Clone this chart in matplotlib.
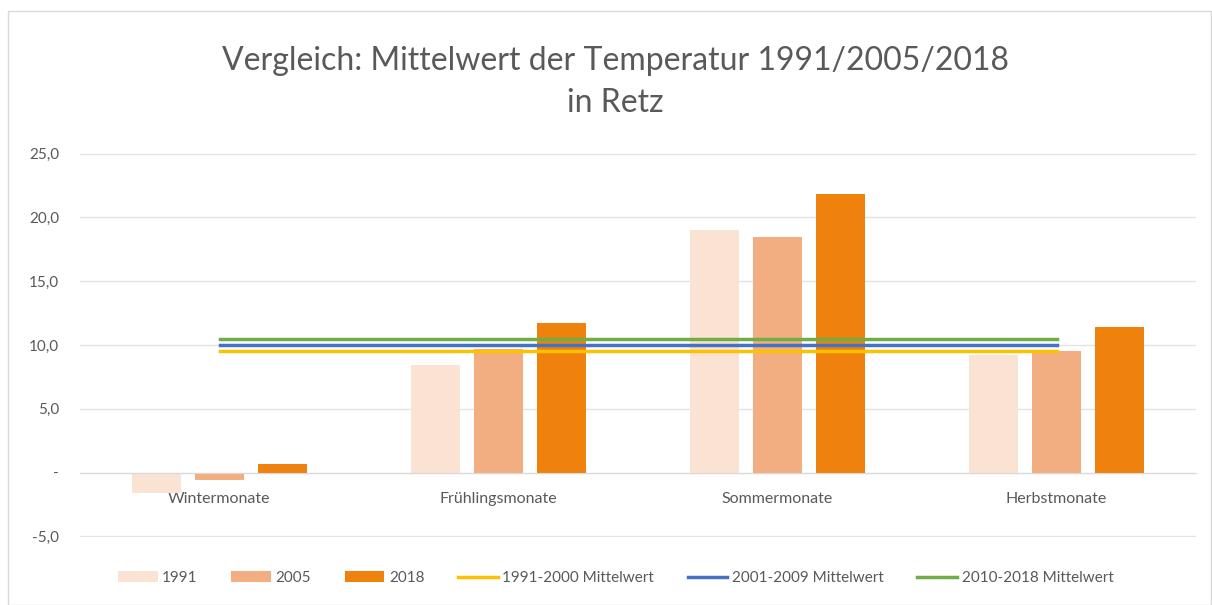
import numpy as np
import matplotlib.pyplot as plt
from matplotlib.patches import Rectangle

categories = ['Wintermonate', 'Frühlingsmonate', 'Sommermonate', 'Herbstmonate']
t_1991 = [-1.6, 8.4, 19.0, 9.2]
t_2005 = [-0.6, 9.7, 18.5, 9.5]
t_2018 = [0.7, 11.7, 21.8, 11.4]
mean_1991_2000 = [9.55, 9.55, 9.55, 9.55]
mean_2001_2009 = [10.0, 10.0, 10.0, 10.0]
mean_2010_2018 = [10.45, 10.45, 10.45, 10.45]
yticks = [-5, 0, 5, 10, 15, 20, 25]
ytick_labels = ['-5,0', '-', '5,0', '10,0', '15,0', '20,0', '25,0']

C_1991 = '#FBE3D4'
C_2005 = '#F2AE80'
C_2018 = '#EF820D'
C_Y = '#FFC000'
C_B = '#4472C4'
C_G = '#70AD47'
TXT = '#595959'

plt.rcParams['font.family'] = ['Lato', 'DejaVu Sans']

fig = plt.figure(figsize=(12.12, 6.05), dpi=100)
fig.patches.append(Rectangle((8 / 1212, 0), 1 - 9 / 1212, 1 - 11 / 605, transform=fig.transFigure,
                             fill=False, ec='#D9D9D9', lw=1))
ax = fig.add_axes([80 / 1212, 68 / 605, 1116 / 1212, 384 / 605])

x = np.arange(len(categories))
w = 0.175
step = 0.226
b1 = ax.bar(x - step, t_1991, w, color=C_1991, label='1991', zorder=2)
b2 = ax.bar(x, t_2005, w, color=C_2005, label='2005', zorder=2)
b3 = ax.bar(x + step, t_2018, w, color=C_2018, label='2018', zorder=2)
l1, = ax.plot(x, mean_1991_2000, color=C_Y, lw=2.5, label='1991-2000 Mittelwert', zorder=3)
l2, = ax.plot(x, mean_2001_2009, color=C_B, lw=2.5, label='2001-2009 Mittelwert', zorder=3)
l3, = ax.plot(x, mean_2010_2018, color=C_G, lw=2.5, label='2010-2018 Mittelwert', zorder=3)

ax.set_xlim(-0.5, 3.5)
ax.set_ylim(-5.05, 25.05)
ax.set_yticks(yticks)
ax.set_yticklabels(ytick_labels)
ax.grid(axis='y', color='#E3E3E3', lw=1, zorder=0)
ax.set_axisbelow(True)
for s in ['top', 'right', 'left']:
    ax.spines[s].set_visible(False)
ax.spines['bottom'].set_position(('data', 0))
ax.spines['bottom'].set_color('#D9D9D9')
ax.set_xticks(x)
ax.set_xticklabels(categories)
ax.tick_params(axis='x', length=0, pad=14, labelsize=11.5, labelcolor=TXT)
ax.tick_params(axis='y', length=0, pad=15, labelsize=11, labelcolor=TXT)

fig.text(0.508, 1 - 82 / 605, 'Vergleich: Mittelwert der Temperatur 1991/2005/2018\nin Retz',
         ha='center', va='center', fontsize=23, color=TXT, linespacing=1.5)

handles = [b1, b2, b3, l1, l2, l3]
ax.legend(handles, [h.get_label() for h in handles], loc='center',
          bbox_to_anchor=(0.48, -41 / 384), ncol=6, frameon=False,
          fontsize=11, labelcolor=TXT, handlelength=2.6, handletextpad=0.3, columnspacing=2.2)

fig.savefig('out.png', dpi=100, facecolor='white')
